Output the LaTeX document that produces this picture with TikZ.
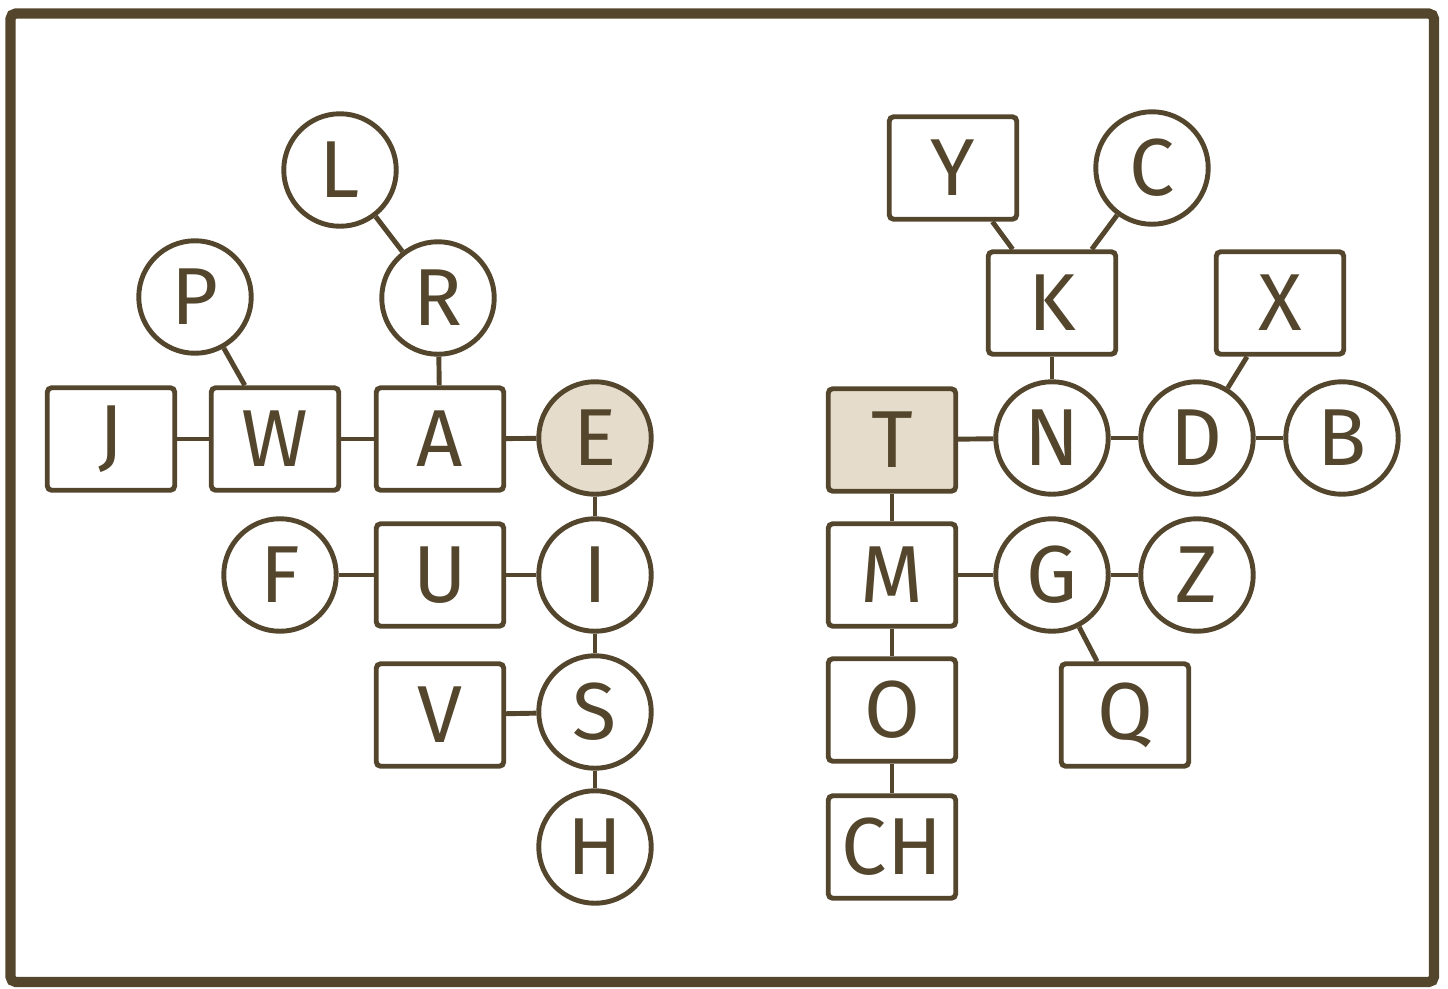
\documentclass[tikz,border=0pt]{standalone}
\usepackage{fontspec}
\setmainfont{Fira Sans}
\usepackage{xcolor}
\usetikzlibrary{positioning}
\definecolor{inkbrown}{HTML}{54462C}
\definecolor{sandfill}{HTML}{E6DCCC}

\begin{document}
\begin{tikzpicture}[
    x=0.02cm, y=-0.02cm,
    letter/.style={draw=inkbrown, line width=2.8pt, fill=white, text=inkbrown, font=\fontsize{46}{50}\selectfont, inner sep=0pt},
    dot/.style={letter, circle, minimum size=2.25cm},
    dash box/.style={letter, rectangle, rounded corners=2.5pt, minimum width=2.55cm, minimum height=2.05cm},
    marked/.style={fill=sandfill},
    link/.style={draw=inkbrown, line width=2.8pt}
]
\useasboundingbox (0,0) rectangle (1448,988);
\draw[inkbrown, line width=5.8pt, rounded corners=3pt] (10.5,13.5) rectangle (1434,982);

% Left tree: dot start
\node[dot, marked] (e) at (595,438) {E};
\node[dash box] (a) at (440,439) {A};
\node[dash box] (w) at (275,439) {W};
\node[dash box] (j) at (111,439) {J};
\node[dot] (p) at (195,297) {P};
\node[dot] (r) at (438,298) {R};
\node[dot] (l) at (340,170) {L};
\node[dot] (i) at (595,575) {I};
\node[dash box] (u) at (440,575) {U};
\node[dot] (f) at (280,575) {F};
\node[dot] (s) at (595,712) {S};
\node[dash box] (v) at (440,715) {V};
\node[dot] (h) at (595,847) {H};
\draw[link] (j) -- (w);
\draw[link] (w) -- (a);
\draw[link] (a) -- (e);
\draw[link] (p) -- (w);
\draw[link] (r) -- (a);
\draw[link] (l) -- (r);
\draw[link] (e) -- (i);
\draw[link] (f) -- (u);
\draw[link] (u) -- (i);
\draw[link] (i) -- (s);
\draw[link] (v) -- (s);
\draw[link] (s) -- (h);

% Right tree: dash start
\node[dash box, marked] (t) at (892,440) {T};
\node[dot] (n) at (1052,438) {N};
\node[dot] (d) at (1197,438) {D};
\node[dot] (b) at (1342,438) {B};
\node[dash box] (k) at (1052,303) {K};
\node[dash box] (y) at (953,168) {Y};
\node[dot] (c) at (1152,168) {C};
\node[dash box] (x) at (1280,303) {X};
\node[dash box] (m) at (892,575) {M};
\node[dot] (g) at (1052,575) {G};
\node[dot] (z) at (1197,575) {Z};
\node[dash box] (q) at (1125,715) {Q};
\node[dash box] (o) at (892,710) {O};
\node[dash box] (ch) at (892,847) {CH};
\draw[link] (t) -- (n);
\draw[link] (n) -- (d);
\draw[link] (d) -- (b);
\draw[link] (k) -- (n);
\draw[link] (y) -- (k);
\draw[link] (c) -- (k);
\draw[link] (x) -- (d);
\draw[link] (t) -- (m);
\draw[link] (m) -- (g);
\draw[link] (g) -- (z);
\draw[link] (g) -- (q);
\draw[link] (m) -- (o);
\draw[link] (o) -- (ch);
\end{tikzpicture}
\end{document}
